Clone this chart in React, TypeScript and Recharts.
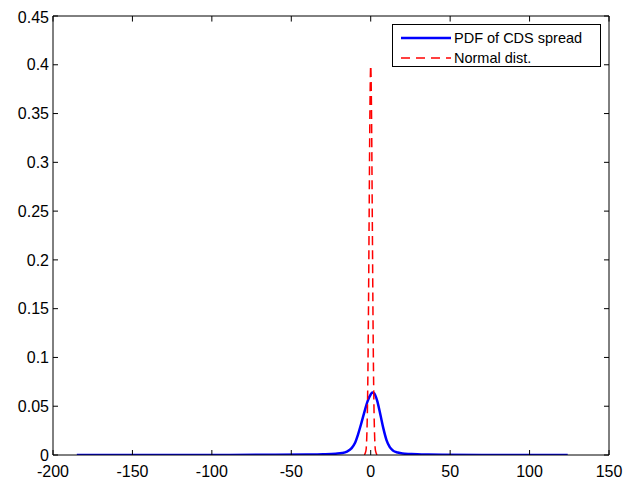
import { LineChart, Line, XAxis, YAxis, Legend, ReferenceLine } from "recharts";

// PDF of CDS spread
const cdsX = [-185, -120, -60, -40, -30, -22, -18, -15, -12, -10, -8, -6, -4, -2, 0, 1, 2, 4, 6, 8, 10, 12, 14, 17, 20, 25, 32, 45, 70, 100, 124];
const cdsY = [0.0001, 0.0001, 0.0002, 0.0004, 0.0007, 0.0013, 0.002, 0.0035, 0.007, 0.012, 0.021, 0.032, 0.044, 0.055, 0.062, 0.064, 0.0635, 0.056, 0.042, 0.027, 0.015, 0.008, 0.0045, 0.0025, 0.0015, 0.001, 0.0005, 0.0003, 0.0001, 0.0001, 0.0001];

// standard normal density
const normX = [-4, -3, -2.5, -2, -1.5, -1, -0.5, 0, 0.5, 1, 1.5, 2, 2.5, 3, 4];
const normY = [0.0001, 0.0044, 0.0175, 0.054, 0.1295, 0.242, 0.352, 0.399, 0.352, 0.242, 0.1295, 0.054, 0.0175, 0.0044, 0.0001];

const xTicks = [-200, -150, -100, -50, 0, 50, 100, 150];
const yTicks = [0, 0.05, 0.1, 0.15, 0.2, 0.25, 0.3, 0.35, 0.4, 0.45];

const cdsData = cdsX.map((x, i) => ({ x, y: cdsY[i] }));
const normData = normX.map((x, i) => ({ x, y: normY[i] }));

const FONT = "'Liberation Sans', Arial, sans-serif";
const tickStyle = { fontSize: 16, fill: "#000", fontFamily: FONT };

function LegendBox() {
  return (
    <div
      style={{
        border: "1px solid #000",
        background: "#fff",
        width: 209,
        height: 43,
        boxSizing: "border-box",
        fontFamily: FONT,
        fontSize: 14.5,
        color: "#000",
        padding: "3px 0 0 8px",
      }}
    >
      <div style={{ display: "flex", alignItems: "center", height: 20 }}>
        <svg width={50} height={10}>
          <line x1={0} y1={5} x2={50} y2={5} stroke="#0000ff" strokeWidth={2.5} />
        </svg>
        <span style={{ marginLeft: 3 }}>PDF of CDS spread</span>
      </div>
      <div style={{ display: "flex", alignItems: "center", height: 19 }}>
        <svg width={50} height={10}>
          <line x1={0} y1={5} x2={50} y2={5} stroke="#ff0000" strokeWidth={1.5} strokeDasharray="9 6" />
        </svg>
        <span style={{ marginLeft: 3 }}>Normal dist.</span>
      </div>
    </div>
  );
}

export default function App() {
  return (
    <LineChart width={620} height={473} margin={{ top: 8, right: 19, left: 0, bottom: 0 }}>
      <XAxis
        dataKey="x"
        type="number"
        domain={[-200, 150]}
        ticks={xTicks}
        allowDataOverflow
        tick={tickStyle}
        tickSize={-5}
        tickMargin={16}
        height={26}
        stroke="#000"
      />
      <YAxis
        type="number"
        domain={[0, 0.45]}
        ticks={yTicks}
        allowDataOverflow
        tick={tickStyle}
        tickSize={-5}
        tickMargin={9}
        width={45}
        stroke="#000"
      />
      {/* box frame: top and right edges, with mirrored inward ticks */}
      <ReferenceLine y={0.45} stroke="#000" />
      <ReferenceLine x={150} stroke="#000" />
      {xTicks.map((t) => (
        <ReferenceLine
          key={"tx" + t}
          segment={[{ x: t, y: 0.45 }, { x: t, y: 0.4443 }]}
          stroke="#000"
        />
      ))}
      {yTicks.map((t) => (
        <ReferenceLine
          key={"ty" + t}
          segment={[{ x: 150, y: t }, { x: 146.85, y: t }]}
          stroke="#000"
        />
      ))}
      <Legend
        layout="vertical"
        align="center"
        verticalAlign="middle"
        content={() => <LegendBox />}
        wrapperStyle={{ top: 16, left: 384, width: 209, height: 43 }}
      />
      <Line
        data={cdsData}
        dataKey="y"
        type="monotone"
        stroke="#0000ff"
        strokeWidth={2.5}
        dot={false}
        isAnimationActive={false}
        name="PDF of CDS spread"
      />
      <Line
        data={normData}
        dataKey="y"
        type="monotone"
        stroke="#ff0000"
        strokeWidth={1.5}
        strokeDasharray="9 5"
        dot={false}
        isAnimationActive={false}
        name="Normal dist."
      />
    </LineChart>
  );
}
